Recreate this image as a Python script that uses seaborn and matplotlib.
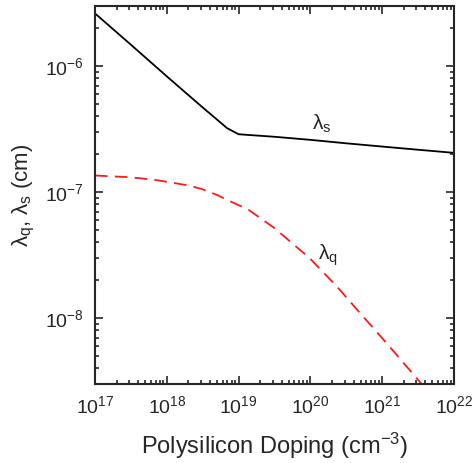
import numpy as np
import pandas as pd
import matplotlib
matplotlib.use("Agg")
import matplotlib.pyplot as plt
import seaborn as sns
from matplotlib.ticker import LogLocator, NullFormatter

# Data: doping (cm^-3) and lengths (cm)
doping_s = [1e17, 10**17.5, 1e18, 10**18.5, 10**18.84, 10**19.0, 10**19.5, 1e20, 10**20.5, 1e21, 10**21.5, 1e22]
lambda_s = [2.62e-6, 1.48e-6, 8.3e-7, 4.7e-7, 3.22e-7, 2.88e-7, 2.75e-7, 2.6e-7, 2.44e-7, 2.3e-7, 2.17e-7, 2.05e-7]

doping_q = [1e17, 10**17.46, 10**17.8, 10**18.07, 10**18.3, 10**18.49, 10**18.7, 10**18.86, 10**19.14,
            10**19.5, 10**19.99, 10**20.37, 10**20.69, 10**21.06, 10**21.46, 1e22]
lambda_q = [1.355e-7, 1.315e-7, 1.26e-7, 1.19e-7, 1.13e-7, 1.057e-7, 9.5e-8, 8.57e-8, 7.24e-8,
            5.18e-8, 2.99e-8, 1.78e-8, 1.10e-8, 6.34e-9, 3.44e-9, 1.5e-9]

sns.set_style("ticks")
plt.rcParams['font.family'] = ['Liberation Sans', 'DejaVu Sans']
plt.rcParams['mathtext.fontset'] = 'custom'
plt.rcParams['mathtext.rm'] = 'Liberation Sans'
plt.rcParams['mathtext.it'] = 'Liberation Sans'

df_s = pd.DataFrame({"N": doping_s, "lam": lambda_s})
df_q = pd.DataFrame({"N": doping_q, "lam": lambda_q})

fig = plt.figure(figsize=(4.73, 4.63), dpi=100)
ax = fig.add_axes([0.2008, 0.1706, 0.759, 0.8164])

sns.lineplot(data=df_s, x="N", y="lam", ax=ax, color="black", lw=1.3)
sns.lineplot(data=df_q, x="N", y="lam", ax=ax, color="#ff1a1a", lw=1.3, linestyle=(0, (7, 4)))

ax.set_xscale("log")
ax.set_yscale("log")
ax.set_xlim(1e17, 1e22)
ax.set_ylim(3e-9, 3e-6)

ax.xaxis.set_major_locator(LogLocator(base=10, numticks=10))
ax.xaxis.set_minor_locator(LogLocator(base=10, subs=np.arange(2, 10), numticks=10))
ax.yaxis.set_major_locator(LogLocator(base=10, numticks=10))
ax.yaxis.set_minor_locator(LogLocator(base=10, subs=np.arange(2, 10), numticks=10))
ax.xaxis.set_minor_formatter(NullFormatter())
ax.yaxis.set_minor_formatter(NullFormatter())

ax.tick_params(which="both", direction="in", top=True, right=True, labelsize=14, width=1.2)
ax.tick_params(which="major", length=6, pad=8)
ax.tick_params(which="minor", length=3)
for sp in ax.spines.values():
    sp.set_linewidth(1.5)

ax.set_xlabel("Polysilicon Doping (cm$^{-3}$)", fontsize=17, labelpad=10)
ax.set_ylabel(r"$\lambda_\mathrm{q}$, $\lambda_\mathrm{s}$ (cm)", fontsize=16, labelpad=6)

ax.text(10**20.02, 2.85e-7, r"$\lambda_\mathrm{s}$", fontsize=15, ha="left", va="bottom")
ax.text(10**20.1, 2.5e-8, r"$\lambda_\mathrm{q}$", fontsize=15, ha="left", va="bottom")

fig.savefig("out.png", dpi=100)
